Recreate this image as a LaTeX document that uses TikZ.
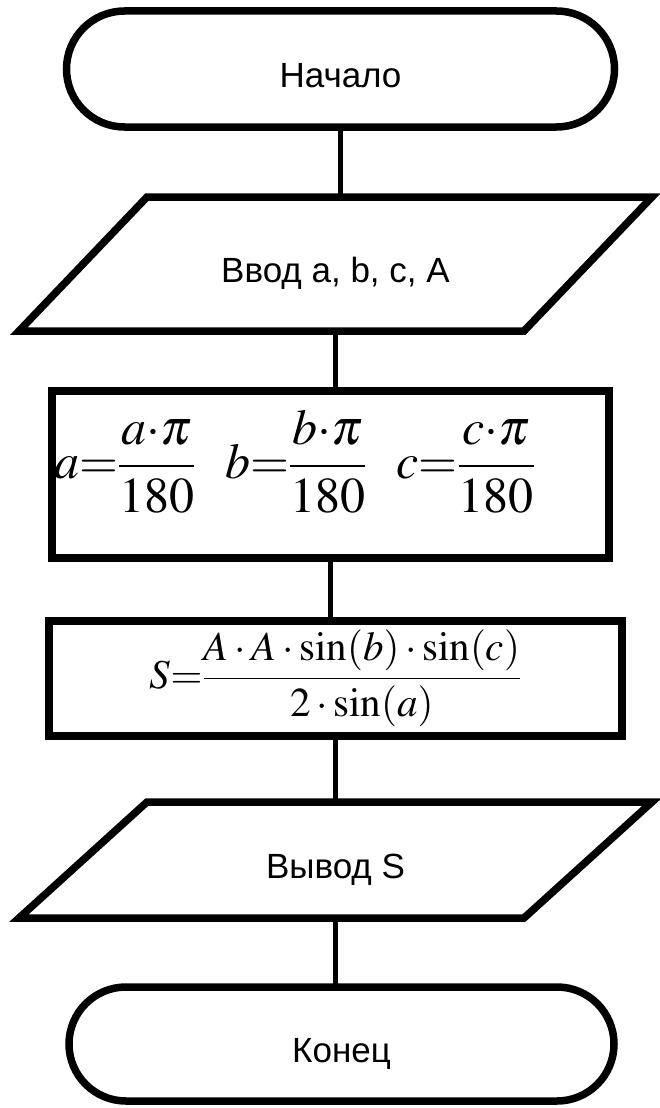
\documentclass[tikz,border=0pt]{standalone}
\usepackage{mathptmx}
\usepackage[no-math]{fontspec}
\newfontfamily\flowfont{Liberation Sans}
\usetikzlibrary{shapes.misc,calc}

\begin{document}
\begin{tikzpicture}[x=1pt, y=-1pt,
    every node/.style={font=\flowfont\fontsize{35}{42}\selectfont, outer sep=0pt, inner sep=0pt},
    shapeline/.style={line width=7.5pt, line join=miter},
    flowline/.style={line width=5.5pt},
    term/.style={draw, shapeline, rounded rectangle, text height=37pt, text depth=0pt},
    io/.style={rectangle, text height=37pt, text depth=0pt},
    proc/.style={draw, shapeline, rectangle},
    formula/.style={font=\fontsize{50}{60}\selectfont}]
    \useasboundingbox (0,0) rectangle (659,1108);
    % Start
    \node[term, minimum width=548pt, minimum height=116pt] (start) at (340.5,69) {Начало};
    % Input
    \node[io, minimum width=505pt, minimum height=134pt] (in) at (335.5,264) {Ввод a, b, c, A};
    \draw[shapeline] ($(in.north west)+(64,0)$) -- ($(in.north east)+(64,0)$)
        -- ($(in.south east)+(-64,0)$) -- ($(in.south west)+(-64,0)$) -- cycle;
    % Radians
    \node[proc, minimum width=557pt, minimum height=167pt] (calc1) at (330.5,474.5) {};
    \node[formula] (f1) at (294.5,462)
        {$\displaystyle a{=}\frac{a{\cdot}\pi}{180}\hspace{30pt}b{=}\frac{b{\cdot}\pi}{180}\hspace{30pt}c{=}\frac{c{\cdot}\pi}{180}$};
    % Area
    \node[proc, minimum width=573pt, minimum height=115pt, font=\fontsize{41}{49}\selectfont] (calc2) at (335.5,678.5)
        {$\displaystyle S{=}\frac{A\cdot A\cdot\sin(b)\cdot\sin(c)}{2\cdot\sin(a)}$};
    % Output
    \node[io, minimum width=505pt, minimum height=116pt] (out) at (335.5,860) {Вывод S};
    \draw[shapeline] ($(out.north west)+(64,0)$) -- ($(out.north east)+(64,0)$)
        -- ($(out.south east)+(-64,0)$) -- ($(out.south west)+(-64,0)$) -- cycle;
    % End
    \node[term, minimum width=545pt, minimum height=114pt] (stop) at (341.5,1044) {Конец};
    % Links
    \draw[flowline] (start.south) -- (start.south |- in.north);
    \draw[flowline] (in.south) -- (in.south |- calc1.north);
    \draw[flowline] (calc1.south) -- (calc1.south |- calc2.north);
    \draw[flowline] (calc2.south) -- (calc2.south |- out.north);
    \draw[flowline] (out.south) -- (out.south |- stop.north);
\end{tikzpicture}
\end{document}
